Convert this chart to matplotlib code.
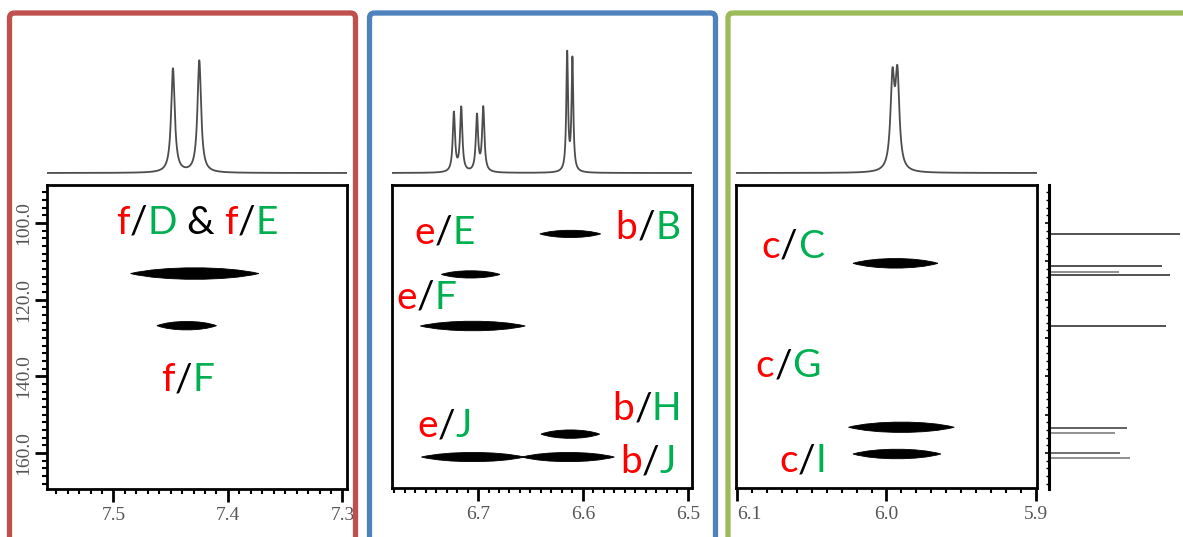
"""Three HSQC-style panels (1H x 13C) with their 1H traces and a 13C projection."""
import numpy as np
import matplotlib
matplotlib.use("Agg")
import matplotlib.pyplot as plt
import matplotlib.transforms as mtransforms
from matplotlib.patches import FancyBboxPatch, PathPatch
from matplotlib.path import Path
from matplotlib.offsetbox import TextArea, HPacker, AnnotationBbox
from matplotlib.ticker import MultipleLocator

W, H = 1183, 537

RED = "#ff0000"
GRN = "#00b050"
INK = "#000000"
SPEC = "#4d4d4d"
TICK_INK = "#555555"
LABEL_FONT = "Lato"
TICK_FONT = "Liberation Serif"

# 13C window shared by all panels
C_LIM = (169.4, 90.1)

# ---- 1H traces: shift (ppm), height, half width (ppm)
H1_SHIFT = [7.448, 7.425]
H1_INT = [104, 112]
H1_HW = [0.0019, 0.0019]

H2_SHIFT = [6.723, 6.716, 6.701, 6.695, 6.615, 6.610]
H2_INT = [59, 64, 56, 64, 118, 112]
H2_HW = [0.0013, 0.0013, 0.0013, 0.0013, 0.0010, 0.0010]

H3_SHIFT = [5.996, 5.9927]
H3_INT = [88, 91]
H3_HW = [0.0016, 0.0016]

# ---- cross peaks: 1H centre, 13C centre, 1H width, 13C thickness
X1_H = [7.429, 7.436]
X1_C = [113.2, 126.8]
X1_W = [0.112, 0.052]
X1_T = [3.0, 2.2]

X2_H = [6.612, 6.707, 6.705, 6.612, 6.705, 6.614]
X2_C = [102.9, 113.5, 127.0, 155.3, 161.3, 161.3]
X2_W = [0.058, 0.056, 0.100, 0.056, 0.098, 0.088]
X2_T = [1.9, 1.9, 2.5, 2.2, 2.4, 2.4]

X3_H = [5.994, 5.990, 5.993]
X3_C = [110.6, 153.5, 160.5]
X3_W = [0.057, 0.071, 0.059]
X3_T = [2.5, 2.7, 2.5]

# ---- 13C projection sticks
PROJ_C = [102.9, 111.2, 112.8, 113.6, 126.9, 153.5, 154.8, 160.0, 161.3]
PROJ_I = [131, 113, 70, 121, 117, 78, 66, 71, 81]
PROJ_SHADE = ["#444444", "#444444", "#888888", "#444444", "#444444",
              "#555555", "#888888", "#666666", "#888888"]

# ---- assignment labels: list of (text, colour) pieces, 1H, 13C
L1 = [([("f", RED), ("/", INK), ("D", GRN), (" & ", INK), ("f", RED), ("/", INK), ("E", GRN)], 7.427, 100.0),
      ([("f", RED), ("/", INK), ("F", GRN)], 7.435, 141.0)]
L2 = [([("e", RED), ("/", INK), ("E", GRN)], 6.732, 102.6),
      ([("b", RED), ("/", INK), ("B", GRN)], 6.538, 101.3),
      ([("e", RED), ("/", INK), ("F", GRN)], 6.749, 119.6),
      ([("b", RED), ("/", INK), ("H", GRN)], 6.539, 148.8),
      ([("e", RED), ("/", INK), ("J", GRN)], 6.732, 153.2),
      ([("b", RED), ("/", INK), ("J", GRN)], 6.538, 162.6)]
L3 = [([("c", RED), ("/", INK), ("C", GRN)], 6.063, 106.3),
      ([("c", RED), ("/", INK), ("G", GRN)], 6.066, 137.6),
      ([("c", RED), ("/", INK), ("I", GRN)], 6.056, 162.4)]

fig = plt.figure(figsize=(W / 100, H / 100), dpi=100)
PX = mtransforms.Affine2D().scale(1 / W, -1 / H).translate(0, 1) + fig.transFigure


def add_ax(l, t, r, b):
    return fig.add_axes([l / W, 1 - b / H, (r - l) / W, (b - t) / H])


def spindle(h, c, w, t):
    # pointed contour shape centred on (h, c)
    k = t / 1.5
    verts = [(h - w / 2, c), (h - w / 4, c - k), (h + w / 4, c - k), (h + w / 2, c),
             (h + w / 4, c + k), (h - w / 4, c + k), (h - w / 2, c), (h - w / 2, c)]
    codes = [Path.MOVETO] + [Path.CURVE4] * 6 + [Path.CLOSEPOLY]
    return PathPatch(Path(verts, codes), facecolor="black", edgecolor="black", lw=0.6)


def trace(box, xlim, shifts, ints, hws):
    ax = add_ax(box[0], 30, box[2], 176)
    x = np.linspace(xlim[0], xlim[1], 4000)
    y = np.zeros_like(x)
    for s, a, w in zip(shifts, ints, hws):
        y += a * w ** 2 / ((x - s) ** 2 + w ** 2)
    ax.plot(x, y, color=SPEC, lw=1.3)
    ax.set_xlim(*xlim)
    ax.set_ylim(-3, 143)
    ax.axis("off")


def panel(box, xlim, xticks, hs, cs, ws, ts, labels, yaxis=False, first_left=False):
    ax = add_ax(*box)
    ax.set_xlim(*xlim)
    ax.set_ylim(*C_LIM)
    for h, c, w, t in zip(hs, cs, ws, ts):
        ax.add_patch(spindle(h, c, w, t))
    for sp in ax.spines.values():
        sp.set_linewidth(2)
    ax.set_xticks(xticks)
    ax.set_xticklabels([f"{v:.1f}" for v in xticks], family=TICK_FONT)
    if first_left:
        ax.get_xticklabels()[0].set_ha("left")
    ax.xaxis.set_minor_locator(MultipleLocator(0.01))
    ax.tick_params(which="major", direction="out", length=9, width=2,
                   labelsize=14, labelcolor=TICK_INK, pad=4)
    ax.tick_params(which="minor", direction="out", length=3.5, width=1.5)
    ax.tick_params(axis="both", which="both", top=False, right=False)
    if yaxis:
        ax.set_yticks([100, 120, 140, 160])
        ax.set_yticklabels([f"{v:.1f}" for v in [100, 120, 140, 160]],
                           family=TICK_FONT, rotation=90, va="center")
        ax.yaxis.set_minor_locator(MultipleLocator(2))
        ax.tick_params(axis="y", which="major", pad=2)
    else:
        ax.set_yticks([])
        ax.tick_params(axis="y", which="both", left=False, labelleft=False)
    for pieces, x, y in labels:
        kids = [TextArea(s, textprops=dict(color=c, fontsize=28, family=LABEL_FONT))
                for s, c in pieces]
        pack = HPacker(children=kids, sep=0, pad=0, align="baseline")
        ax.add_artist(AnnotationBbox(pack, (x, y), xycoords="data", frameon=False,
                                     box_alignment=(0.5, 0.5), pad=0))
    return ax


B1, XL1 = (47, 185, 347, 489), (7.558, 7.296)
B2, XL2 = (392, 185, 692, 488), (6.782, 6.496)
B3, XL3 = (736, 185, 1037, 488), (6.101, 5.899)

trace(B1, XL1, H1_SHIFT, H1_INT, H1_HW)
trace(B2, XL2, H2_SHIFT, H2_INT, H2_HW)
trace(B3, XL3, H3_SHIFT, H3_INT, H3_HW)

panel(B1, XL1, [7.5, 7.4, 7.3], X1_H, X1_C, X1_W, X1_T, L1, yaxis=True)
panel(B2, XL2, [6.7, 6.6, 6.5], X2_H, X2_C, X2_W, X2_T, L2)
panel(B3, XL3, [6.1, 6.0, 5.9], X3_H, X3_C, X3_W, X3_T, L3, first_left=True)

# 13C projection on the right
axp = add_ax(1049, 185, 1183, 489)
axp.hlines(PROJ_C, 0, PROJ_I, colors=PROJ_SHADE, lw=1.3)
axp.set_xlim(0, 134)
axp.set_ylim(*C_LIM)
axp.set_facecolor("none")
for k in ("top", "right", "bottom"):
    axp.spines[k].set_visible(False)
axp.spines["left"].set_linewidth(2.2)
axp.set_xticks([])
axp.yaxis.set_major_locator(MultipleLocator(10))
axp.yaxis.set_minor_locator(MultipleLocator(2))
axp.tick_params(axis="y", which="major", direction="out", length=3, width=1.2, labelleft=False)
axp.tick_params(axis="y", which="minor", direction="out", length=2, width=1)

# coloured frames around the three regions
for x0, x1, col in [(9.5, 355.5, "#c0504d"), (369.5, 715.5, "#4f81bd"), (728, 1200, "#9bbb59")]:
    fig.add_artist(FancyBboxPatch((x0, 13), x1 - x0, 540, boxstyle="round,pad=0,rounding_size=5",
                                  transform=PX, fill=False, ec=col, lw=3.8))

fig.savefig("out.png", dpi=100)
